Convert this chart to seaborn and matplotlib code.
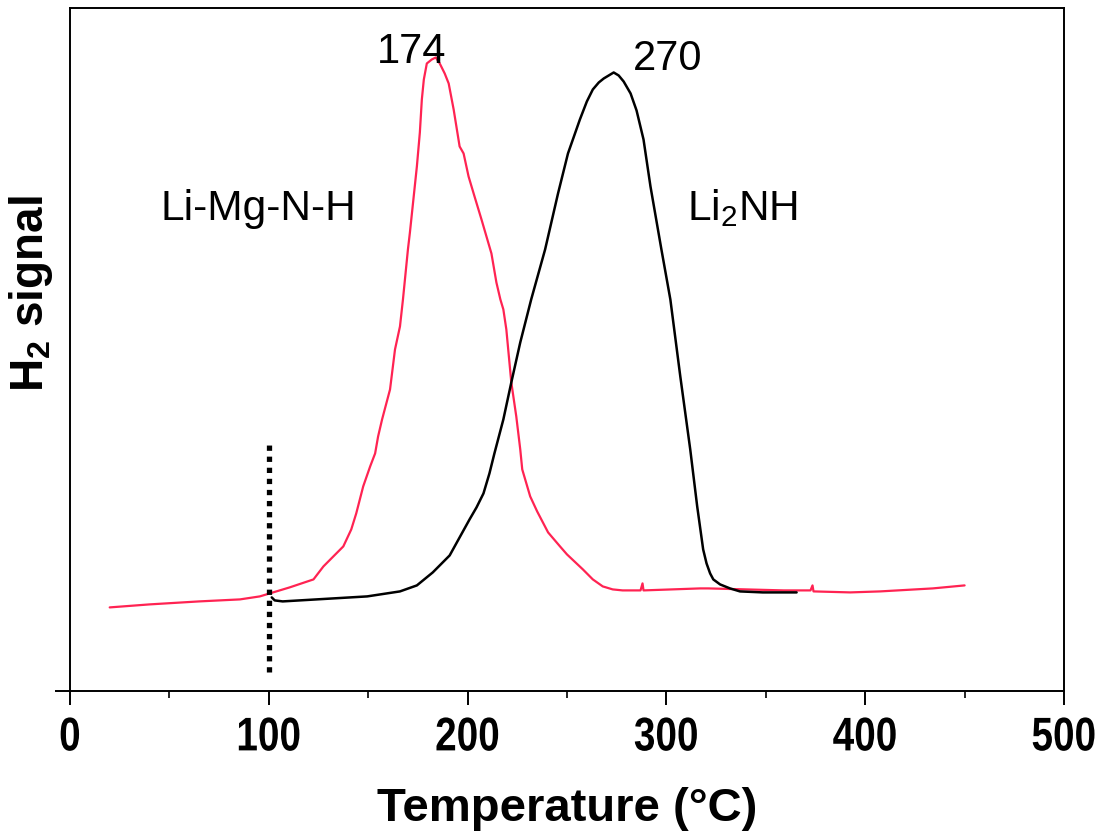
import matplotlib
matplotlib.use("Agg")
import matplotlib.pyplot as plt
from matplotlib import font_manager, patheffects
from matplotlib.transforms import Affine2D
from matplotlib.ticker import MultipleLocator
import seaborn as sns

# Li-Mg-N-H curve (red), temperature in C and signal in a.u.
red_T = [20, 40, 65, 85.5, 95.5, 100.5, 110.5, 122.5, 127.5, 132.5,
         137.5, 141.5, 144, 147.5, 151, 153.5, 155, 157, 161, 163.5,
         166, 167.5, 170, 171, 174.5, 176, 177, 178, 179.5, 182,
         184, 186, 188.5, 190.5, 193, 196, 198, 200.5, 203.5, 207,
         212, 214.5, 216.5, 218, 219.5, 222, 224.5, 226.5, 227.5, 231.5,
         235, 240.5, 246.5, 250, 258, 263, 268, 273, 278, 287,
         288, 288.5, 317, 321, 359, 372.5, 373.5, 374, 392.5, 407.5,
         434, 450]
red_sig = [0.84, 0.87, 0.90, 0.92, 0.95, 0.98, 1.04, 1.12, 1.25, 1.35,
           1.45, 1.62, 1.78, 2.05, 2.25, 2.38, 2.55, 2.72, 3.02, 3.42,
           3.65, 3.92, 4.42, 4.59, 5.25, 5.59, 5.92, 6.12, 6.28, 6.32,
           6.34, 6.28, 6.18, 6.08, 5.82, 5.45, 5.38, 5.15, 4.95, 4.72,
           4.38, 4.09, 3.92, 3.82, 3.62, 3.09, 2.75, 2.42, 2.22, 1.95,
           1.80, 1.59, 1.45, 1.37, 1.22, 1.12, 1.05, 1.02, 1.01, 1.01,
           1.08, 1.01, 1.03, 1.03, 1.01, 1.01, 1.06, 1.00, 0.99, 1.00,
           1.03, 1.06]

# Li2NH curve (black)
blk_T = [101.5, 103, 107, 124, 149.5, 166, 174.5, 182.5, 191, 201,
         204.5, 208, 211, 213.5, 218, 222, 226.5, 232, 239, 245.5,
         250.5, 256.5, 260, 263, 266, 268.5, 271, 273.5, 276, 278.5,
         282, 285, 288.5, 292, 297.5, 302, 307, 312, 315.5, 318.5,
         320.2, 322, 323.6, 327, 332, 337, 348.5, 365.5]
blk_sig = [0.94, 0.91, 0.90, 0.92, 0.95, 1.00, 1.06, 1.19, 1.36, 1.72,
           1.84, 1.98, 2.18, 2.38, 2.72, 3.09, 3.49, 3.92, 4.42, 4.98,
           5.38, 5.72, 5.90, 6.02, 6.09, 6.13, 6.16, 6.19, 6.16, 6.10,
           5.98, 5.81, 5.52, 5.05, 4.42, 3.92, 3.15, 2.42, 1.85, 1.42,
           1.28, 1.18, 1.12, 1.07, 1.03, 1.00, 0.99, 0.99]

# dotted marker line at 100 C
mark_T = [100, 100]
mark_sig = [0.195, 2.465]

x_ticks = [0, 100, 200, 300, 400, 500]


class SqueezeX(patheffects.AbstractPathEffect):
    # narrows a text horizontally around its own centre (no narrow font installed)
    def __init__(self, sx):
        super().__init__()
        self.sx = sx

    def draw_path(self, renderer, gc, tpath, affine, rgbFace=None):
        ext = tpath.transformed(affine).get_extents()
        cx = (ext.x0 + ext.x1) / 2
        squeeze = Affine2D().translate(-cx, 0).scale(self.sx, 1).translate(cx, 0)
        renderer.draw_path(gc, tpath, affine + squeeze, rgbFace)


fonts = {f.name for f in font_manager.fontManager.ttflist}
narrow = "Liberation Sans Narrow" if "Liberation Sans Narrow" in fonts else None

sns.set_style("ticks")
plt.rcParams["font.family"] = ["Liberation Sans", "DejaVu Sans"]
plt.rcParams.update({"text.color": "black", "axes.labelcolor": "black",
                     "xtick.color": "black", "ytick.color": "black"})

fig = plt.figure(figsize=(11.05, 8.32), dpi=100)
ax = fig.add_axes([0.0633, 0.169, 0.8996, 0.8208])

sns.lineplot(x=red_T, y=red_sig, color="#ff2352", linewidth=1.6,
             estimator=None, sort=False, ax=ax)
sns.lineplot(x=blk_T, y=blk_sig, color="black", linewidth=1.8,
             estimator=None, sort=False, ax=ax)
ax.plot(mark_T, mark_sig, color="black", linewidth=3.8,
        linestyle=(0, (1, 1.1)), dash_capstyle="butt")

ax.set_xlim(0, 500)
ax.set_ylim(0, 6.83)
ax.set_xticks(x_ticks)
ax.xaxis.set_minor_locator(MultipleLocator(50))
ax.set_yticks([0])
ax.set_yticklabels([])

for s in ax.spines.values():
    s.set_linewidth(1.4)
    s.set_color("black")
ax.tick_params(axis="x", which="major", length=10, width=1.4, direction="out", pad=8)
ax.tick_params(axis="x", which="minor", length=5, width=1.2, direction="out")
ax.tick_params(axis="y", which="major", length=11, width=1.4, direction="out")
for lab in ax.get_xticklabels():
    lab.set_fontweight("bold")
    lab.set_fontsize(34)
    if narrow:
        lab.set_fontfamily(narrow)
    else:
        lab.set_path_effects([SqueezeX(0.82)])

ax.set_xlabel("Temperature (°C)", fontsize=34, fontweight="bold", labelpad=19)
ax.set_ylabel(r"H$_\mathregular{2}$ signal", fontsize=33, fontweight="bold")
ax.yaxis.set_label_coords(-0.015, 0.583)

ax.text(45.3, 4.715, "Li-Mg-N-H", fontsize=30.5, ha="left", va="baseline")
ax.text(310.4, 4.715, r"Li$_\mathregular{2}$NH", fontsize=30.5, ha="left", va="baseline")
ax.text(154.4, 6.285, "174", fontsize=30, ha="left", va="baseline")
ax.text(283.2, 6.215, "270", fontsize=30, ha="left", va="baseline")

fig.savefig("out.png", dpi=100)
